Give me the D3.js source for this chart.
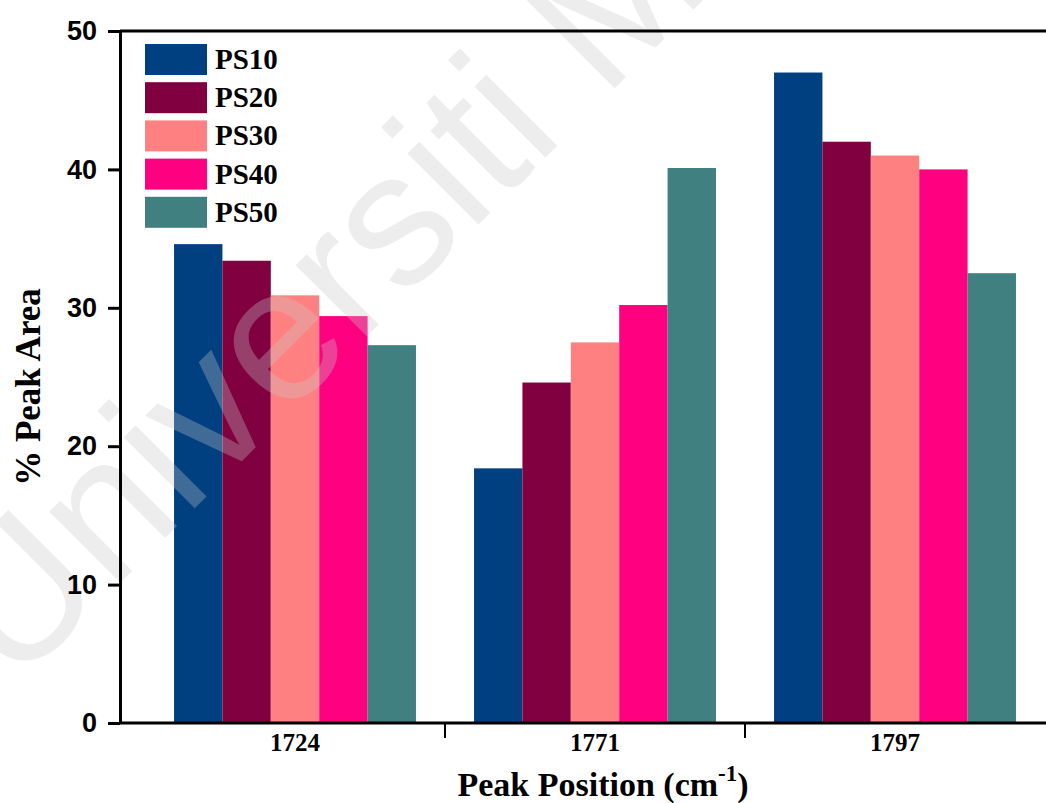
<!DOCTYPE html>
<html>
<head>
<meta charset="utf-8">
<script src="https://cdn.jsdelivr.net/npm/d3@7"></script>
<style>
  html, body { margin: 0; padding: 0; background: #ffffff; }
  svg { display: block; }
</style>
</head>
<body>
<div id="chart"></div>
<script>
// Peak positions (cm^-1) on the x axis
const categories = ["1724", "1771", "1797"];
// Sample series
const seriesNames = ["PS10", "PS20", "PS30", "PS40", "PS50"];
// % peak area for each sample at each peak position
const ps10 = [34.6, 18.4, 47.0];
const ps20 = [33.4, 24.6, 42.0];
const ps30 = [30.9, 27.5, 41.0];
const ps40 = [29.4, 30.2, 40.0];
const ps50 = [27.3, 40.1, 32.5];
const yTickValues = [0, 10, 20, 30, 40, 50];
const seriesColors = ["#004080", "#800040", "#ff8080", "#ff0080", "#408080"];

const seriesValues = [ps10, ps20, ps30, ps40, ps50];
const rows = [];
categories.forEach((c, ci) => {
  seriesNames.forEach((s, si) => rows.push({ category: c, series: s, value: seriesValues[si][ci] }));
});

const W = 1046, H = 803;
const svg = d3.select("#chart").append("svg")
  .attr("width", W).attr("height", H)
  .style("background", "#ffffff");

const axisX = 120;       // left axis position
const plotRight = 1060;  // frame runs past the right edge

const y = d3.scaleLinear().domain([0, 50]).range([723, 31]);
const x0 = d3.scaleBand().domain(categories).range([145, 1045]).paddingInner(0).paddingOuter(0);
const x1 = d3.scaleBand().domain(seriesNames).range([0, x0.bandwidth()]).paddingInner(0).paddingOuter(0.6);
const color = d3.scaleOrdinal().domain(seriesNames).range(seriesColors);

// Bars
svg.append("g").selectAll("rect")
  .data(rows)
  .join("rect")
  .attr("x", d => x0(d.category) + x1(d.series))
  .attr("y", d => y(d.value))
  .attr("width", x1.bandwidth())
  .attr("height", d => y(0) - y(d.value))
  .attr("fill", d => color(d.series));

// Faint watermark across the plot
svg.append("text")
  .attr("transform", "translate(14,689) rotate(-45)")
  .attr("font-family", "'Liberation Sans', Arial, sans-serif")
  .attr("font-size", 190)
  .attr("fill", "#c8c8c8")
  .attr("fill-opacity", 0.32)
  .text("Universiti Malaya");

// Frame lines: top and bottom
svg.append("line")
  .attr("x1", axisX).attr("x2", plotRight)
  .attr("y1", y(50)).attr("y2", y(50))
  .attr("stroke", "#000").attr("stroke-width", 3);
svg.append("line")
  .attr("x1", axisX).attr("x2", plotRight)
  .attr("y1", y(0)).attr("y2", y(0))
  .attr("stroke", "#000").attr("stroke-width", 3);

// Left axis
const yAxis = svg.append("g")
  .attr("transform", `translate(${axisX},0)`)
  .call(d3.axisLeft(y).tickValues(yTickValues).tickSize(12).tickSizeOuter(0).tickPadding(11));
yAxis.select(".domain").attr("stroke", "#000").attr("stroke-width", 3);
yAxis.selectAll(".tick line").attr("stroke", "#000").attr("stroke-width", 3);
yAxis.selectAll(".tick text")
  .attr("font-family", "'Liberation Sans', Arial, sans-serif")
  .attr("font-weight", "bold")
  .attr("font-size", 27)
  .attr("fill", "#000");

// Bottom axis labels
const xAxis = svg.append("g")
  .attr("transform", `translate(0,${y(0)})`)
  .call(d3.axisBottom(x0).tickSize(0).tickPadding(10));
xAxis.select(".domain").remove();
xAxis.selectAll(".tick text")
  .attr("font-family", "'Liberation Serif', 'Times New Roman', serif")
  .attr("font-weight", "bold")
  .attr("font-size", 25)
  .attr("fill", "#000");

// Separator ticks between peak positions
svg.append("g").selectAll("line")
  .data(categories.slice(1))
  .join("line")
  .attr("x1", d => x0(d)).attr("x2", d => x0(d))
  .attr("y1", y(0)).attr("y2", y(0) + 15)
  .attr("stroke", "#000").attr("stroke-width", 2);

// Axis titles
svg.append("text")
  .attr("transform", "translate(40,387) rotate(-90)")
  .attr("text-anchor", "middle")
  .attr("font-family", "'Liberation Serif', 'Times New Roman', serif")
  .attr("font-weight", "bold")
  .attr("font-size", 35)
  .attr("fill", "#000")
  .text("% Peak Area");

const xt = svg.append("text")
  .attr("x", 603).attr("y", 796)
  .attr("text-anchor", "middle")
  .attr("font-family", "'Liberation Serif', 'Times New Roman', serif")
  .attr("font-weight", "bold")
  .attr("font-size", 34)
  .attr("fill", "#000");
xt.append("tspan").text("Peak Position (cm");
xt.append("tspan").attr("dy", -15).attr("font-size", 23).text("-1");
xt.append("tspan").attr("dy", 15).text(")");

// Legend
const legend = svg.append("g").attr("transform", "translate(145,44)");
const item = legend.selectAll("g")
  .data(seriesNames)
  .join("g")
  .attr("transform", (d, i) => `translate(0,${i * 38.2})`);
item.append("rect")
  .attr("width", 62).attr("height", 31)
  .attr("fill", d => color(d));
item.append("text")
  .attr("x", 70).attr("y", 25)
  .attr("font-family", "'Liberation Serif', 'Times New Roman', serif")
  .attr("font-weight", "bold")
  .attr("font-size", 29)
  .attr("fill", "#000")
  .text(d => d);
</script>
</body>
</html>
